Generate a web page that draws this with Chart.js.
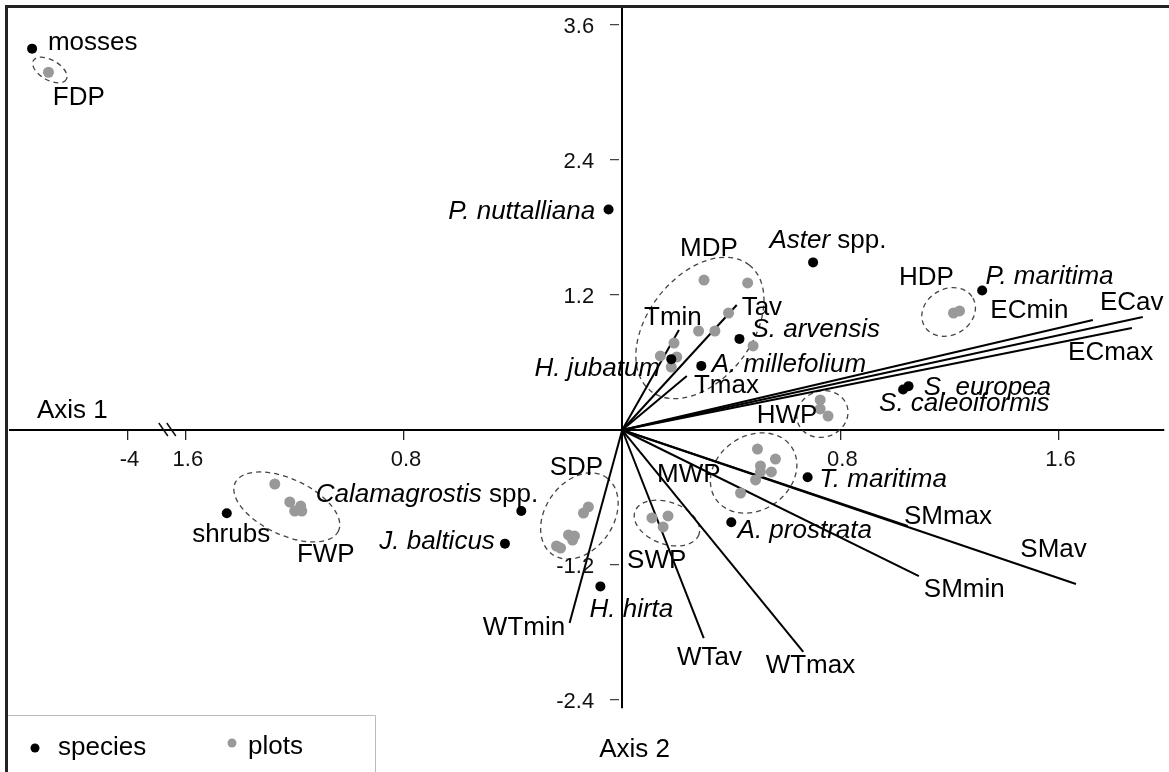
<!DOCTYPE html>
<html>
<head>
<meta charset="utf-8">
<script src="https://cdn.jsdelivr.net/npm/chart.js@4/dist/chart.umd.min.js"></script>
<style>
    html, body { margin: 0; padding: 0; background: #fff; }
    canvas { display: block; }
</style>
</head>
<body>
<canvas id="biplot" width="1169" height="772"></canvas>
<script>
// valores (ejes: Axis 1 / Axis 2)
const SPECIES = ['mosses', 'P. nuttalliana', 'Aster spp.', 'P. maritima', 'S. arvensis', 'A. millefolium',
    'H. jubatum', 'S. europea', 'S. caleoiformis', 'shrubs', 'Calamagrostis spp.', 'J. balticus',
    'H. hirta', 'T. maritima', 'A. prostrata'];
const SPECIES_X = [-4.35, -0.05, 0.70, 1.32, 0.43, 0.29, 0.18, 1.05, 1.03, -1.45, -0.37, -0.43, -0.08, 0.68, 0.40];
const SPECIES_Y = [3.39, 1.96, 1.49, 1.24, 0.81, 0.57, 0.63, 0.39, 0.36, -0.74, -0.72, -1.01, -1.39, -0.42, -0.82];

const GROUPS = ['FDP', 'MDP', 'HDP', 'HWP', 'MWP', 'SWP', 'SDP', 'FWP'];
const GROUP_CX = [-4.285, 0.285, 1.197, 0.734, 0.482, 0.164, -0.157, -1.230];
const GROUP_CY = [3.20, 0.907, 1.049, 0.142, -0.382, -0.827, -0.764, -0.684];

const PLOT_X = [
    -4.29,
    0.30, 0.46, 0.39, 0.28, 0.34, 0.48, 0.19, 0.14, 0.20, 0.18,
    1.215, 1.237,
    0.726, 0.726, 0.755,
    0.496, 0.562, 0.507, 0.507, 0.547, 0.489, 0.434,
    0.109, 0.168, 0.150,
    -0.124, -0.142, -0.197, -0.175, -0.182, -0.241, -0.226,
    -1.274, -1.219, -1.179, -1.201, -1.175
];
const PLOT_Y = [
    3.18,
    1.333, 1.307, 1.04, 0.88, 0.88, 0.747, 0.773, 0.658, 0.649, 0.56,
    1.04, 1.058,
    0.267, 0.187, 0.124,
    -0.169, -0.258, -0.32, -0.373, -0.373, -0.444, -0.56,
    -0.782, -0.764, -0.862,
    -0.684, -0.738, -0.933, -0.942, -0.978, -1.031, -1.049,
    -0.48, -0.64, -0.676, -0.72, -0.72
];

const VECTORS = ['Tmin', 'Tav', 'Tmax', 'ECmin', 'ECav', 'ECmax', 'SMmax', 'SMav', 'SMmin', 'WTmax', 'WTav', 'WTmin'];
const VEC_X = [0.208, 0.420, 0.237, 1.726, 1.909, 1.869, 1.047, 1.664, 1.088, 0.664, 0.299, -0.193];
const VEC_Y = [0.889, 1.111, 0.48, 0.978, 1.004, 0.907, -0.853, -1.369, -1.298, -1.973, -1.849, -1.716];

const X_TICKS = [-4, -1.6, -0.8, 0.8, 1.6];
const X_TICK_LABELS = ['-4', '1.6', '0.8', '0.8', '1.6'];
const Y_TICKS = [3.6, 2.4, 1.2, -1.2, -2.4];
const Y_TICK_LABELS = ['3.6', '2.4', '1.2', '-1.2', '-2.4'];

// eje 1 cortado: lo que queda a la izquierda del corte se corre
const AXIS_BREAK = -3;
const BREAK_SHIFT = 2.186;
const BREAK_MARK = -1.67;

// [texto, x, y, alineacion, estilo]  estilo: n normal, i cursiva, s cursiva + " spp."
const LABELS = [
    ['mosses', -4.292, 3.378, 'left', 'n'],
    ['FDP', -4.274, 2.889, 'left', 'n'],
    ['P. nuttalliana', -0.099, 1.876, 'right', 'i'],
    ['Aster', 0.540, 1.618, 'left', 's'],
    ['MDP', 0.212, 1.547, 'left', 'n'],
    ['HDP', 1.015, 1.289, 'left', 'n'],
    ['P. maritima', 1.332, 1.298, 'left', 'i'],
    ['ECmin', 1.350, 0.996, 'left', 'n'],
    ['ECav', 1.752, 1.067, 'left', 'n'],
    ['ECmax', 1.635, 0.622, 'left', 'n'],
    ['Tmin', 0.080, 0.933, 'left', 'n'],
    ['Tav', 0.438, 1.022, 'left', 'n'],
    ['S. arvensis', 0.474, 0.827, 'left', 'i'],
    ['H. jubatum', 0.139, 0.48, 'right', 'i'],
    ['A. millefolium', 0.328, 0.516, 'left', 'i'],
    ['Tmax', 0.263, 0.329, 'left', 'n'],
    ['HWP', 0.493, 0.062, 'left', 'n'],
    ['S. europea', 1.106, 0.311, 'left', 'i'],
    ['S. caleoiformis', 0.942, 0.169, 'left', 'i'],
    ['SDP', -0.266, -0.40, 'left', 'n'],
    ['MWP', 0.128, -0.462, 'left', 'n'],
    ['T. maritima', 0.723, -0.507, 'left', 'i'],
    ['Calamagrostis', -1.124, -0.64, 'left', 's'],
    ['SMmax', 1.033, -0.836, 'left', 'n'],
    ['shrubs', -1.577, -0.996, 'left', 'n'],
    ['J. balticus', -0.467, -1.058, 'right', 'i'],
    ['A. prostrata', 0.423, -0.96, 'left', 'i'],
    ['SMav', 1.460, -1.129, 'left', 'n'],
    ['FWP', -1.193, -1.173, 'left', 'n'],
    ['SWP', 0.018, -1.227, 'left', 'n'],
    ['SMmin', 1.106, -1.484, 'left', 'n'],
    ['H. hirta', -0.120, -1.662, 'left', 'i'],
    ['WTmin', -0.511, -1.822, 'left', 'n'],
    ['WTav', 0.201, -2.089, 'left', 'n'],
    ['WTmax', 0.526, -2.16, 'left', 'n']
];

// forma de las elipses de cada grupo (px): semiejes y giro
const ELLIPSE_SHAPE = {
    FDP: [19, 10, 30], MDP: [80, 52, -52], HDP: [28, 23, -30], HWP: [26, 23, -20],
    MWP: [46, 37, -35], SWP: [34, 21, 20], SDP: [47, 34, -55], FWP: [57, 28, 25]
};

const FONT = '"Liberation Sans", Arial, Helvetica, sans-serif';
const LABEL_SIZE = 26;
const TICK_SIZE = 22;
const NEGRO = '#000000';
const GRIS = '#999999';

function posX(x) {
    return x < AXIS_BREAK ? x + BREAK_SHIFT : x;
};

function sinPadding(s) {
    // los ejes cruzan en el origen: no deben quitar sitio al area del grafico
    s.paddingTop = 0;
    s.paddingBottom = 0;
    s.paddingLeft = 0;
    s.paddingRight = 0;
};

document.addEventListener("DOMContentLoaded", function () {
    crearGrafico();
});

const overlayPlugin = {
    id: 'overlay',
    beforeDatasetsDraw(chart) {
        const { ctx, scales: { x, y } } = chart;
        ctx.save();
        ctx.strokeStyle = '#444';
        ctx.lineWidth = 1.3;
        ctx.setLineDash([5, 4]);
        GROUPS.forEach((g, i) => {
            const [a, b, rot] = ELLIPSE_SHAPE[g];
            ctx.beginPath();
            ctx.ellipse(x.getPixelForValue(posX(GROUP_CX[i])), y.getPixelForValue(GROUP_CY[i]), a, b, rot * Math.PI / 180, 0, Math.PI * 2);
            ctx.stroke();
        });
        ctx.restore();
    },
    afterDatasetsDraw(chart) {
        const { ctx, chartArea, scales: { x, y } } = chart;
        ctx.save();
        ctx.fillStyle = NEGRO;
        ctx.textBaseline = 'alphabetic';
        LABELS.forEach(([t, lx, ly, align, style]) => {
            const px = x.getPixelForValue(posX(lx));
            const py = y.getPixelForValue(ly);
            const main = (style === 'n' ? '' : 'italic ') + LABEL_SIZE + 'px ' + FONT;
            ctx.font = main;
            const w1 = ctx.measureText(t).width;
            let tail = '';
            let w2 = 0;
            if (style === 's') {
                tail = ' spp.';
                ctx.font = LABEL_SIZE + 'px ' + FONT;
                w2 = ctx.measureText(tail).width;
            };
            const x0 = align === 'right' ? px - w1 - w2 : px;
            ctx.textAlign = 'left';
            ctx.font = main;
            ctx.fillText(t, x0, py);
            if (tail) {
                ctx.font = LABEL_SIZE + 'px ' + FONT;
                ctx.fillText(tail, x0 + w1, py);
            };
        });

        const y0 = y.getPixelForValue(0);
        const x0 = x.getPixelForValue(0);

        // etiquetas del eje 2, a la izquierda de las marcas
        ctx.font = TICK_SIZE + 'px ' + FONT;
        ctx.textAlign = 'right';
        ctx.textBaseline = 'middle';
        ctx.fillStyle = '#111';
        y.ticks.forEach((t, i) => {
            ctx.fillText(Y_TICK_LABELS[i], x0 - 28, y.getPixelForValue(t.value) + 2);
        });

        // titulos de los ejes
        ctx.fillStyle = NEGRO;
        ctx.textBaseline = 'alphabetic';
        ctx.font = LABEL_SIZE + 'px ' + FONT;
        ctx.textAlign = 'left';
        ctx.fillText('Axis 1', chartArea.left + 27, y0 - 12);
        ctx.fillText('Axis 2', x0 - 23, chart.height - 15);

        // marca del corte del eje 1
        const bx = x.getPixelForValue(BREAK_MARK);
        ctx.strokeStyle = '#111';
        ctx.lineWidth = 1.5;
        ctx.beginPath();
        ctx.moveTo(bx - 8, y0 - 7); ctx.lineTo(bx + 1, y0 + 6);
        ctx.moveTo(bx, y0 - 7); ctx.lineTo(bx + 9, y0 + 6);
        ctx.stroke();

        // marco
        ctx.strokeStyle = '#222';
        ctx.lineWidth = 3;
        ctx.beginPath();
        ctx.moveTo(6.5, chart.height);
        ctx.lineTo(6.5, 6.5);
        ctx.lineTo(chart.width, 6.5);
        ctx.stroke();

        // leyenda
        const top = chart.height - 57;
        ctx.strokeStyle = '#bbbbbb';
        ctx.lineWidth = 1;
        ctx.beginPath();
        ctx.moveTo(8, top + 0.5);
        ctx.lineTo(375.5, top + 0.5);
        ctx.lineTo(375.5, chart.height);
        ctx.stroke();
        ctx.fillStyle = NEGRO;
        ctx.beginPath(); ctx.arc(35, top + 33, 4.5, 0, Math.PI * 2); ctx.fill();
        ctx.fillStyle = GRIS;
        ctx.beginPath(); ctx.arc(232, top + 28, 4.5, 0, Math.PI * 2); ctx.fill();
        ctx.fillStyle = NEGRO;
        ctx.font = LABEL_SIZE + 'px ' + FONT;
        ctx.fillText('species', 58, top + 40);
        ctx.fillText('plots', 248, top + 39);
        ctx.restore();
    }
};

function crearGrafico() {
    const ctx = document.getElementById('biplot').getContext('2d');

    const puntosEspecies = SPECIES.map((s, i) => ({ x: posX(SPECIES_X[i]), y: SPECIES_Y[i] }));
    const puntosParcelas = PLOT_X.map((v, i) => ({ x: posX(v), y: PLOT_Y[i] }));

    const datasets = [
        {
            label: 'species',
            data: puntosEspecies,
            pointRadius: 5,
            pointBackgroundColor: NEGRO,
            pointBorderWidth: 0,
            showLine: false
        },
        {
            label: 'plots',
            data: puntosParcelas,
            pointRadius: 5.5,
            pointBackgroundColor: GRIS,
            pointBorderWidth: 0,
            showLine: false
        }
    ];
    VECTORS.forEach((v, i) => {
        datasets.push({
            label: v,
            data: [{ x: 0, y: 0 }, { x: VEC_X[i], y: VEC_Y[i] }],
            showLine: true,
            borderColor: NEGRO,
            borderWidth: 2,
            pointRadius: 0,
            tension: 0
        });
    });

    const config = {
        type: 'scatter',
        data: { datasets: datasets },
        options: {
            responsive: false,
            animation: false,
            devicePixelRatio: 1,
            layout: { padding: { left: 10, top: 7, right: 0, bottom: 64 } },
            plugins: {
                legend: { display: false },
                tooltip: { enabled: false }
            },
            scales: {
                x: {
                    type: 'linear',
                    position: { y: 0 },
                    min: -2.245,
                    max: 1.985,
                    afterFit: (s) => { s.height = 0; sinPadding(s); },
                    afterBuildTicks: (s) => { s.ticks = X_TICKS.map(v => ({ value: posX(v) })); },
                    ticks: {
                        font: { family: FONT, size: TICK_SIZE },
                        color: '#111',
                        padding: 8,
                        autoSkip: false,
                        maxRotation: 0,
                        labelOffset: 2,
                        callback: (value, index) => X_TICK_LABELS[index]
                    },
                    grid: { drawOnChartArea: false, drawTicks: true, tickLength: 9, color: '#222', lineWidth: 1.3 },
                    border: { color: NEGRO, width: 2 }
                },
                y: {
                    type: 'linear',
                    position: { x: 0 },
                    min: -2.471,
                    max: 3.76,
                    afterFit: (s) => { s.width = 0; sinPadding(s); },
                    afterBuildTicks: (s) => { s.ticks = Y_TICKS.map(v => ({ value: v })); },
                    ticks: { display: false },
                    // marcas cortas separadas del eje, como en el original
                    grid: { drawOnChartArea: false, drawTicks: true, tickLength: 12, tickBorderDash: [0, 2, 9, 40], color: '#444', lineWidth: 1.3 },
                    border: { color: NEGRO, width: 2 }
                }
            }
        },
        plugins: [overlayPlugin]
    };

    new Chart(ctx, config);
};
</script>
</body>
</html>
